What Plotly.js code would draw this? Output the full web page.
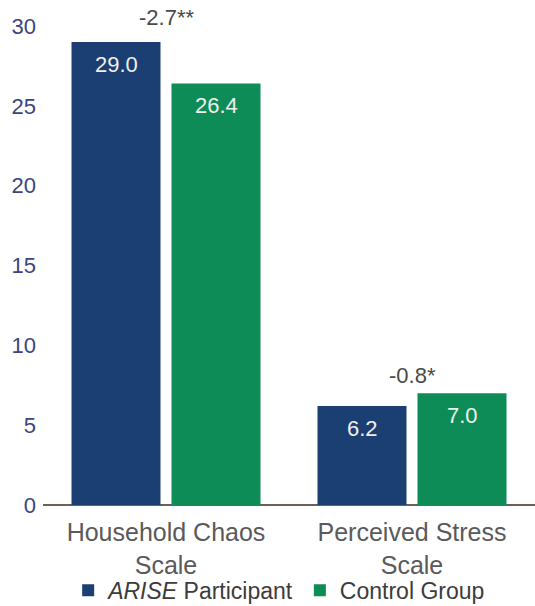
<!DOCTYPE html>
<html>
<head>
<meta charset="utf-8">
<script src="https://cdn.plot.ly/plotly-3.0.1.min.js"></script>
<style>
  html, body { margin: 0; padding: 0; background: #ffffff; }
  #chart { width: 535px; height: 606px; }
</style>
</head>
<body>
<div id="chart"></div>
<script>
// Scale scores by group
const categories = ["Household Chaos<br>Scale", "Perceived Stress<br>Scale"];
const ariseScores = [29.0, 6.2];
const controlScores = [26.4, 7.0];
const differenceLabels = ["-2.7**", "-0.8*"];
const yTicks = [0, 5, 10, 15, 20, 25, 30];

const seriesNames = ["<i>ARISE</i> Participant", "Control Group"];
const seriesColors = ["#1c3f73", "#0e8c57"];
const seriesValues = [ariseScores, controlScores];

const FONT = "Liberation Sans, Arial, sans-serif";

const traces = seriesValues.map((vals, i) => ({
  type: "bar",
  name: seriesNames[i],
  x: categories,
  y: vals,
  marker: { color: seriesColors[i], line: { width: 0 } },
  hoverinfo: "none"
}));

// value labels just inside the top of each bar
const barShift = [-50, 50];
const annotations = [];
seriesValues.forEach((vals, s) => {
  vals.forEach((v, c) => {
    annotations.push({
      x: categories[c], y: v, xref: "x", yref: "y",
      text: v.toFixed(1), showarrow: false,
      yanchor: "top", yshift: -8, xshift: barShift[s],
      font: { family: FONT, size: 22, color: "#eef0ee" }
    });
  });
});

// difference labels above each group
const diffShift = [10, 3];
differenceLabels.forEach((t, c) => {
  annotations.push({
    x: categories[c], y: Math.max(ariseScores[c], controlScores[c]),
    xref: "x", yref: "y",
    text: t, showarrow: false, yanchor: "bottom", yshift: diffShift[c],
    font: { family: FONT, size: 22, color: "#4a4a4a" }
  });
});

const layout = {
  width: 535, height: 606,
  margin: { l: 43, r: 0, t: 26, b: 101, autoexpand: false },
  paper_bgcolor: "#ffffff", plot_bgcolor: "#ffffff",
  font: { family: FONT },
  barmode: "group",
  bargap: 0.187,
  bargroupgap: 0.11,
  showlegend: true,
  legend: {
    orientation: "h", x: 0.48, xanchor: "center",
    yref: "container", y: 0.026, yanchor: "middle",
    bgcolor: "rgba(0,0,0,0)",
    font: { family: FONT, size: 23, color: "#3c3c3c" },
    itemclick: false, itemdoubleclick: false, tracegroupgap: 0
  },
  xaxis: {
    type: "category",
    showgrid: false, zeroline: false,
    showline: false, ticks: "",
    tickfont: { family: FONT, size: 25, color: "#5a5a5a" },
    ticklabelstandoff: 10,
    automargin: false,
    fixedrange: true
  },
  yaxis: {
    range: [0, 30],
    tickvals: yTicks,
    ticktext: yTicks.map(String),
    showgrid: false, showline: false, ticks: "",
    zeroline: true, zerolinecolor: "#6b6157", zerolinewidth: 2,
    tickfont: { family: FONT, size: 22, color: "#3a4580" },
    ticklabelstandoff: 6,
    automargin: false,
    fixedrange: true
  },
  annotations: annotations
};

Plotly.newPlot("chart", traces, layout, { displayModeBar: false, staticPlot: true });
</script>
</body>
</html>
